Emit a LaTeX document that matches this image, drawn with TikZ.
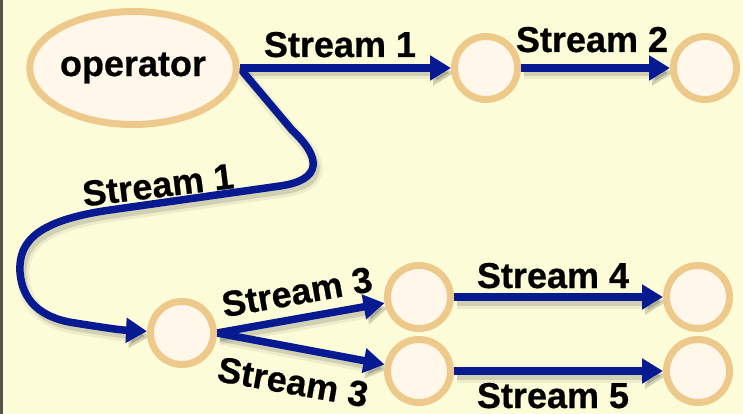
\documentclass[tikz,border=0pt]{standalone}
\usepackage{fontspec}
\setmainfont{Liberation Sans}[BoldFeatures={FakeBold=0.6}]
\usetikzlibrary{arrows.meta,shapes.geometric}
\definecolor{bgc}{RGB}{253,252,216}
\definecolor{ringc}{RGB}{238,201,140}
\definecolor{fillc}{RGB}{254,247,234}
\definecolor{flowc}{RGB}{8,26,145}
\definecolor{framec}{RGB}{85,85,75}
\pgfdeclarelayer{under}
\pgfsetlayers{under,main}
\begin{document}
\begin{tikzpicture}[x=1pt,y=-1pt,
  proc/.style={circle, draw=ringc, fill=fillc, line width=7pt, minimum size=63pt, inner sep=0pt},
  opnode/.style={ellipse, draw=ringc, fill=fillc, line width=7pt, minimum width=170pt,
    minimum height=113pt, inner sep=0pt, font=\fontsize{36}{40}\selectfont\bfseries},
  flow/.style={draw=flowc, line width=7.5pt, -{Triangle[length=21pt,width=24pt]},
    preaction={draw=black, opacity=0.06, line width=13pt, transform canvas={xshift=3pt,yshift=-5pt}},
    preaction={draw=black, opacity=0.12, line width=7pt, transform canvas={xshift=3pt,yshift=-5pt}}},
  lbl/.style={font=\fontsize{36}{40}\selectfont\bfseries, inner sep=0pt}]

\useasboundingbox (0,0) rectangle (743,414);
\begin{pgfonlayer}{under}
  \fill[bgc] (0,0) rectangle (743,414);
  \draw[framec, line width=2.5pt] (1.25,0) -- (1.25,414);
\end{pgfonlayer}

% operator and processing nodes
\node[opnode] (op) at (133,68) {operator};
\node[proc] (a) at (486,68) {};
\node[proc] (b) at (705,68) {};
\node[proc] (c) at (182,333) {};
\node[proc] (d) at (419,297) {};
\node[proc] (e) at (419,371) {};
\node[proc] (f) at (698,297) {};
\node[proc] (g) at (698,371) {};

% streams
\begin{pgfonlayer}{under}
  \draw[flow] (op.east) -- (a);
  \draw[flow] (a) -- (b);
  \draw[flow] (op.east) -- (292,130)
     .. controls (322,158) and (322,180) .. (280,186)
     -- (110,210)
     .. controls (40,220) and (18,240) .. (20,272)
     .. controls (22,300) and (40,318) .. (75,323)
     .. controls (100,327) and (120,330) .. (c);
  \draw[flow] (c.east) -- (d);
  \draw[flow] (c.east) -- (e);
  \draw[flow] (d) -- (f);
  \draw[flow] (e) -- (g);
\end{pgfonlayer}

% stream labels
\node[lbl, anchor=base] (l1) at (340,57) {Stream 1};
\node[lbl, anchor=base] (l2) at (592,52) {Stream 2};
\node[lbl, rotate=7] (l1b) at (158,185) {Stream 1};
\node[lbl, rotate=10] (l3a) at (297,292) {Stream 3};
\node[lbl, rotate=-10] (l3b) at (293,382) {Stream 3};
\node[lbl, anchor=base] (l4) at (553,288) {Stream 4};
\node[lbl, anchor=base] (l5) at (553,408) {Stream 5};
\end{tikzpicture}
\end{document}
